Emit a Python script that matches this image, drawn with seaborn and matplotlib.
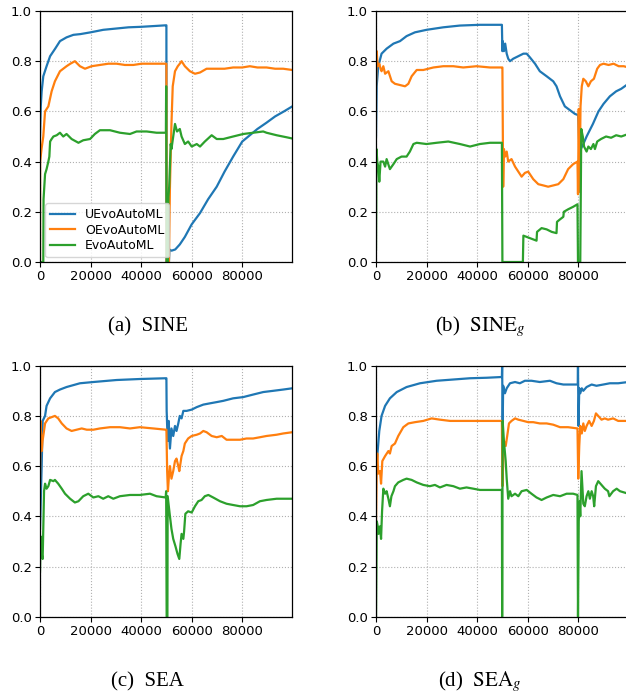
import matplotlib
matplotlib.use("Agg")
import matplotlib.pyplot as plt
import seaborn as sns
import pandas as pd

# ---------------- data ----------------
series_names = ["UEvoAutoML", "OEvoAutoML", "EvoAutoML"]
x_ticks = [0, 20000, 40000, 60000, 80000]
y_ticks = [0.0, 0.2, 0.4, 0.6, 0.8, 1.0]
panel_captions = ["(a)  SINE", r"(b)  $\mathrm{SINE}_g$", "(c)  SEA", r"(d)  $\mathrm{SEA}_g$"]

# (a) SINE
sine_u = [(0, 0.50), (300, 0.62), (660, 0.68), (1300, 0.74), (2600, 0.78), (4000, 0.82), (6000, 0.85),
          (7900, 0.88), (10500, 0.895), (13200, 0.905), (16000, 0.908), (20000, 0.915), (25000, 0.925),
          (30000, 0.93), (35000, 0.935), (40000, 0.937), (45000, 0.94), (49800, 0.943), (50000, 0.943),
          (50050, 0.0), (51000, 0.0), (51200, 0.05), (52000, 0.045), (53500, 0.05), (55300, 0.07),
          (57300, 0.10), (60000, 0.15), (63300, 0.195), (66500, 0.25), (69900, 0.30), (73000, 0.36),
          (76400, 0.42), (80000, 0.48), (83000, 0.505), (86000, 0.53), (89600, 0.555), (93000, 0.58),
          (96500, 0.60), (99800, 0.62)]
sine_o = [(0, 0.0), (50, 0.40), (600, 0.45), (1300, 0.50), (2000, 0.60), (3300, 0.62), (4600, 0.68),
          (5900, 0.72), (7900, 0.76), (10500, 0.78), (12000, 0.79), (13800, 0.80), (15800, 0.78),
          (17800, 0.77), (20400, 0.78), (23700, 0.785), (27000, 0.79), (30300, 0.79), (33600, 0.785),
          (36900, 0.785), (40200, 0.79), (43500, 0.79), (46500, 0.79), (49800, 0.79), (50000, 0.79),
          (50100, 0.0), (51000, 0.0), (51400, 0.30), (52000, 0.55), (52500, 0.70), (53400, 0.76),
          (54500, 0.78), (55300, 0.79), (56000, 0.80), (57300, 0.78), (59300, 0.76), (61300, 0.75),
          (63300, 0.755), (65900, 0.77), (69900, 0.77), (73000, 0.77), (76400, 0.775), (80000, 0.775),
          (83000, 0.78), (86000, 0.775), (89600, 0.775), (93000, 0.77), (96200, 0.77), (99800, 0.765)]
sine_e = [(0, 0.0), (1300, 0.0), (1400, 0.25), (1700, 0.30), (2000, 0.35), (2600, 0.37), (3300, 0.40),
          (3700, 0.42), (4000, 0.48), (4600, 0.49), (5300, 0.50), (6600, 0.505), (7900, 0.515),
          (9200, 0.50), (10500, 0.51), (12500, 0.49), (15200, 0.475), (17100, 0.485), (19800, 0.49),
          (21700, 0.51), (23700, 0.525), (27700, 0.525), (31600, 0.515), (35600, 0.51), (38200, 0.52),
          (42200, 0.52), (46100, 0.515), (49800, 0.515), (49900, 0.70), (50100, 0.0), (50600, 0.0),
          (50800, 0.26), (51100, 0.30), (51700, 0.47), (52000, 0.45), (52700, 0.50), (53400, 0.55),
          (54200, 0.52), (55300, 0.53), (56000, 0.50), (57300, 0.47), (58600, 0.48), (60000, 0.46),
          (62000, 0.47), (63300, 0.46), (65200, 0.48), (67900, 0.505), (69900, 0.49), (72500, 0.49),
          (76400, 0.50), (80400, 0.51), (84300, 0.515), (88300, 0.52), (89600, 0.515), (93600, 0.505),
          (97500, 0.497), (99800, 0.492)]

# (b) SINE_g
sineg_u = [(0, 0.50), (260, 0.70), (900, 0.78), (2200, 0.83), (4200, 0.85), (6900, 0.87), (9500, 0.88),
           (12100, 0.90), (15400, 0.915), (20000, 0.925), (26600, 0.935), (33200, 0.942), (41100, 0.945),
           (49800, 0.945), (50000, 0.84), (50100, 0.88), (50600, 0.84), (51100, 0.87), (51700, 0.83),
           (52300, 0.81), (53000, 0.80), (54300, 0.81), (56300, 0.82), (58300, 0.83), (59600, 0.83),
           (60900, 0.815), (62900, 0.79), (64800, 0.76), (67500, 0.74), (70100, 0.72), (71400, 0.70),
           (72800, 0.66), (74700, 0.62), (76700, 0.605), (78700, 0.59), (80000, 0.585), (80400, 0.47),
           (81000, 0.45), (82000, 0.47), (83300, 0.50), (85800, 0.55), (88000, 0.60), (90000, 0.63),
           (92500, 0.66), (95000, 0.68), (97000, 0.69), (99800, 0.71)]
sineg_o = [(0, 0.70), (300, 0.84), (500, 0.80), (900, 0.78), (1300, 0.79), (1800, 0.77), (2200, 0.76),
           (2900, 0.78), (3600, 0.75), (4900, 0.76), (6200, 0.72), (7500, 0.71), (9500, 0.705),
           (11500, 0.70), (12800, 0.71), (14100, 0.74), (16100, 0.765), (18700, 0.765), (22700, 0.775),
           (26600, 0.78), (30600, 0.78), (34500, 0.775), (39800, 0.78), (45100, 0.775), (49800, 0.775),
           (50000, 0.775), (50300, 0.30), (50600, 0.45), (51100, 0.42), (51700, 0.44), (52300, 0.40),
           (53600, 0.41), (55000, 0.38), (56300, 0.36), (57600, 0.34), (58900, 0.355), (60200, 0.36),
           (62200, 0.33), (64200, 0.31), (66200, 0.305), (68100, 0.30), (70100, 0.305), (72100, 0.31),
           (74100, 0.33), (76000, 0.37), (78000, 0.39), (79700, 0.40), (79900, 0.27), (80200, 0.61),
           (80500, 0.28), (80900, 0.62), (81400, 0.70), (82000, 0.73), (83000, 0.72), (84000, 0.70),
           (85000, 0.72), (86200, 0.73), (87500, 0.77), (88600, 0.785), (90000, 0.79), (92000, 0.785),
           (94000, 0.79), (96000, 0.78), (98000, 0.78), (99800, 0.775)]
sineg_e = [(0, 0.05), (200, 0.45), (500, 0.40), (900, 0.38), (1300, 0.32), (1800, 0.40), (2900, 0.40),
           (3600, 0.38), (4200, 0.41), (5500, 0.37), (6900, 0.39), (8200, 0.41), (10100, 0.42),
           (12100, 0.42), (13400, 0.44), (14800, 0.47), (16100, 0.475), (20000, 0.47), (24000, 0.475),
           (28600, 0.48), (33200, 0.47), (37200, 0.46), (41100, 0.47), (45100, 0.475), (49800, 0.475),
           (50000, 0.0), (58100, 0.0), (58300, 0.105), (60900, 0.095), (63500, 0.085), (63700, 0.12),
           (65500, 0.135), (67500, 0.13), (69500, 0.12), (71400, 0.115), (71600, 0.16), (72800, 0.17),
           (74100, 0.18), (74300, 0.20), (76000, 0.21), (78000, 0.22), (79700, 0.23), (79900, 0.0),
           (80800, 0.0), (81200, 0.53), (81800, 0.50), (82300, 0.46), (83300, 0.44), (84000, 0.46),
           (85000, 0.45), (86000, 0.47), (86600, 0.45), (87500, 0.48), (89000, 0.49), (91000, 0.50),
           (93000, 0.495), (95000, 0.505), (97000, 0.50), (99800, 0.51)]

# (c) SEA
sea_u = [(0, 0.35), (400, 0.50), (660, 0.60), (1050, 0.78), (2000, 0.80), (2600, 0.84), (4000, 0.87),
         (5900, 0.895), (7900, 0.905), (10500, 0.915), (15800, 0.93), (21100, 0.935), (30300, 0.943),
         (39500, 0.947), (49800, 0.95), (50000, 0.95), (50100, 0.82), (50500, 0.70), (50900, 0.78),
         (51400, 0.67), (52000, 0.75), (52700, 0.72), (53400, 0.76), (54000, 0.74), (54700, 0.77),
         (55300, 0.80), (56000, 0.79), (56700, 0.82), (58000, 0.82), (60000, 0.825), (62000, 0.835),
         (64600, 0.845), (67200, 0.85), (69900, 0.855), (72500, 0.86), (76400, 0.87), (80400, 0.875),
         (84300, 0.885), (88300, 0.895), (92300, 0.90), (96200, 0.905), (99800, 0.91)]
sea_o = [(0, 0.55), (200, 0.78), (700, 0.66), (1000, 0.70), (1300, 0.72), (2000, 0.77), (3300, 0.79),
         (4600, 0.795), (5900, 0.80), (7200, 0.79), (8600, 0.77), (10500, 0.75), (12500, 0.74),
         (14500, 0.745), (16500, 0.75), (18500, 0.745), (21100, 0.745), (23700, 0.75), (27700, 0.755),
         (31600, 0.755), (35600, 0.75), (39500, 0.755), (44800, 0.75), (49800, 0.745), (50000, 0.745),
         (50300, 0.58), (50600, 0.50), (51000, 0.56), (51400, 0.60), (52000, 0.55), (52700, 0.58),
         (53400, 0.62), (54000, 0.63), (54700, 0.60), (55100, 0.58), (56000, 0.64), (56700, 0.66),
         (57300, 0.69), (58600, 0.71), (60000, 0.72), (62000, 0.725), (63300, 0.73), (64600, 0.74),
         (65900, 0.735), (67900, 0.72), (69900, 0.715), (71900, 0.72), (73800, 0.705), (76400, 0.705),
         (79100, 0.705), (81700, 0.71), (84300, 0.71), (87000, 0.715), (89600, 0.72), (93600, 0.725),
         (96200, 0.73), (99800, 0.735)]
sea_e = [(0, 0.18), (260, 0.32), (650, 0.25), (1050, 0.23), (1400, 0.40), (1600, 0.50), (2000, 0.53),
         (2600, 0.51), (3300, 0.52), (4000, 0.545), (5300, 0.54), (5900, 0.545), (7200, 0.53),
         (8600, 0.51), (9900, 0.49), (11900, 0.47), (13800, 0.455), (15200, 0.46), (17100, 0.48),
         (19100, 0.49), (21100, 0.475), (23100, 0.48), (25000, 0.47), (27000, 0.48), (29000, 0.47),
         (31600, 0.48), (35600, 0.485), (39500, 0.485), (43500, 0.49), (46100, 0.48), (49700, 0.475),
         (49900, 0.50), (50100, 0.0), (50400, 0.0), (50500, 0.48), (51400, 0.40), (52000, 0.35),
         (52700, 0.31), (53600, 0.28), (54400, 0.25), (55100, 0.23), (55600, 0.29), (56000, 0.33),
         (56700, 0.31), (57000, 0.34), (57500, 0.41), (58600, 0.42), (60000, 0.415), (61300, 0.44),
         (62600, 0.46), (63900, 0.465), (65200, 0.48), (66600, 0.485), (68500, 0.475), (71200, 0.46),
         (73800, 0.45), (76400, 0.445), (79100, 0.44), (81700, 0.44), (84300, 0.445), (87000, 0.46),
         (89600, 0.465), (93600, 0.47), (99800, 0.47)]

# (d) SEA_g
seag_u = [(0, 0.60), (500, 0.64), (1300, 0.74), (2200, 0.80), (3600, 0.84), (5500, 0.87), (8200, 0.895),
          (12100, 0.915), (17400, 0.93), (24000, 0.94), (30600, 0.945), (37200, 0.95), (43800, 0.952),
          (49800, 0.955), (49900, 1.0), (50100, 0.76), (50300, 0.92), (51000, 0.89), (51700, 0.91),
          (53000, 0.93), (55000, 0.935), (56900, 0.93), (58900, 0.94), (61500, 0.94), (64800, 0.935),
          (68800, 0.94), (71400, 0.93), (74100, 0.925), (77400, 0.925), (79800, 0.925), (79900, 1.0),
          (80100, 0.76), (80400, 0.91), (80800, 0.89), (81400, 0.91), (82000, 0.90), (83300, 0.915),
          (85300, 0.925), (87200, 0.92), (89900, 0.925), (92500, 0.93), (95800, 0.93), (99800, 0.935)]
seag_o = [(0, 0.38), (300, 0.60), (500, 0.65), (900, 0.57), (1600, 0.58), (2000, 0.53), (2500, 0.62),
          (3600, 0.64), (4900, 0.66), (5500, 0.65), (6200, 0.68), (7500, 0.69), (8800, 0.72),
          (10800, 0.755), (12800, 0.77), (15400, 0.775), (18700, 0.78), (22000, 0.79), (25300, 0.785),
          (29300, 0.78), (33200, 0.78), (37200, 0.78), (41100, 0.78), (45100, 0.78), (49800, 0.78),
          (50000, 0.52), (50600, 0.70), (51300, 0.68), (51900, 0.72), (52600, 0.77), (53600, 0.78),
          (55000, 0.79), (56300, 0.785), (58300, 0.78), (60200, 0.775), (62200, 0.775), (64800, 0.77),
          (67500, 0.77), (70100, 0.765), (72800, 0.755), (76000, 0.755), (79700, 0.75), (80000, 0.55),
          (80400, 0.68), (80800, 0.76), (81400, 0.73), (82000, 0.77), (82600, 0.74), (83300, 0.76),
          (84300, 0.78), (85300, 0.76), (86200, 0.78), (87000, 0.81), (87900, 0.80), (89200, 0.785),
          (90500, 0.79), (91800, 0.785), (93800, 0.79), (95800, 0.78), (99800, 0.78)]
seag_e = [(0, 0.0), (300, 0.38), (700, 0.36), (1000, 0.33), (1600, 0.36), (2000, 0.31), (2400, 0.42),
          (2900, 0.51), (3600, 0.49), (4200, 0.50), (4900, 0.47), (5500, 0.44), (6100, 0.48),
          (6900, 0.50), (7500, 0.52), (8800, 0.535), (10800, 0.545), (12100, 0.55), (14100, 0.545),
          (16100, 0.535), (18700, 0.525), (21300, 0.52), (23300, 0.525), (25300, 0.515), (27900, 0.525),
          (30600, 0.52), (33200, 0.51), (35800, 0.515), (38500, 0.51), (41100, 0.505), (45100, 0.505),
          (49800, 0.505), (49900, 0.0), (50100, 0.78), (50600, 0.70), (51300, 0.62), (51700, 0.55),
          (52300, 0.47), (53000, 0.50), (53600, 0.48), (55000, 0.49), (56300, 0.48), (57600, 0.50),
          (59600, 0.505), (61500, 0.49), (63500, 0.475), (65500, 0.465), (67500, 0.475), (70100, 0.485),
          (72800, 0.48), (75400, 0.49), (78000, 0.49), (79700, 0.485), (79900, 0.0), (80200, 0.38),
          (80500, 0.46), (80800, 0.40), (81300, 0.58), (82000, 0.45), (82600, 0.44), (83300, 0.48),
          (84000, 0.50), (84600, 0.47), (85300, 0.50), (85900, 0.48), (86300, 0.44), (87000, 0.52),
          (87900, 0.54), (89200, 0.525), (90500, 0.51), (91800, 0.50), (92300, 0.48), (93800, 0.50),
          (95200, 0.51), (96500, 0.50), (99800, 0.49)]

panels = [
    (sine_u, sine_o, sine_e),
    (sineg_u, sineg_o, sineg_e),
    (sea_u, sea_o, sea_e),
    (seag_u, seag_o, seag_e),
]

# ---------------- styling / layout ----------------
plt.rcParams["font.family"] = ["DejaVu Sans"]
plt.rcParams["mathtext.fontset"] = "stix"
colors = ["#1f77b4", "#ff7f0e", "#2ca02c"]

W, H = 626, 694
fig = plt.figure(figsize=(W / 100, H / 100), dpi=100)

ax_w, ax_h = 252.3 / W, 251 / H
positions = [
    (40 / W, 1 - 262 / H),
    (376 / W, 1 - 262 / H),
    (40 / W, 1 - 616.7 / H),
    (376 / W, 1 - 616.7 / H),
]
caption_pos = [(148, 331), (480, 331), (147, 686), (480, 686)]

for i, (series, (l, b)) in enumerate(zip(panels, positions)):
    ax = fig.add_axes([l, b, ax_w, ax_h])
    for name, pts, c in zip(series_names, series, colors):
        df = pd.DataFrame(pts, columns=["x", "y"])
        sns.lineplot(data=df, x="x", y="y", estimator=None, sort=False, color=c,
                     linewidth=1.6, ax=ax, label=name if i == 0 else None, legend=False)
    ax.set_xlim(0, 99800)
    ax.set_ylim(0, 1)
    ax.set_xticks(x_ticks)
    ax.set_yticks(y_ticks)
    ax.set_xticklabels([str(t) for t in x_ticks])
    ax.set_yticklabels([f"{t:.1f}" for t in y_ticks])
    ax.tick_params(labelsize=9.5, length=3.5, width=0.8, pad=2.5)
    ax.set_xlabel("")
    ax.set_ylabel("")
    ax.grid(True, linestyle=":", linewidth=0.8, color="#b0b0b0")
    ax.set_axisbelow(True)
    for s in ax.spines.values():
        s.set_linewidth(0.9)
        s.set_color("black")
    if i == 0:
        ax.legend(loc="lower left", fontsize=9, labelspacing=0.2, borderaxespad=0.4,
                  handlelength=2.0, frameon=True)
    cx, cy = caption_pos[i]
    fig.text(cx / W, 1 - cy / H, panel_captions[i], ha="center", va="baseline",
             fontsize=15, family=["Liberation Serif", "DejaVu Serif"])

fig.savefig("out.png", dpi=100)
